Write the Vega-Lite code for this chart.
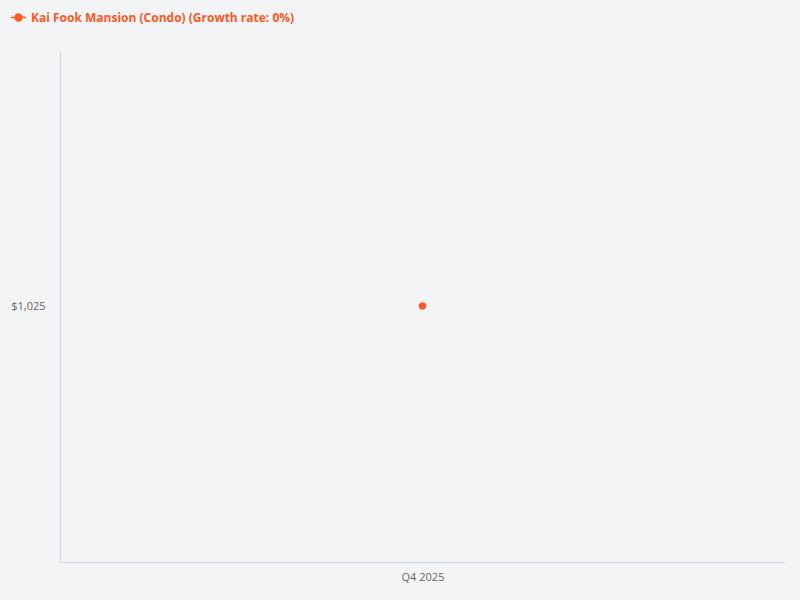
{
  "$schema": "https://vega.github.io/schema/vega-lite/v6.json",
  "autosize": {"type": "none"},
  "padding": {"left": 60, "top": 50, "right": 15, "bottom": 38},
  "width": 725,
  "height": 512,
  "background": "#f3f4f6",
  "data": {
    "values": [
      {"quarter": "Q4 2025", "price": 1025, "series": "Kai Fook Mansion (Condo) (Growth rate: 0%)"}
    ]
  },
  "encoding": {
    "x": {
      "field": "quarter",
      "type": "ordinal",
      "scale": {"type": "point", "padding": 0.5},
      "axis": {"title": null, "labelAngle": 0}
    },
    "y": {
      "field": "price",
      "type": "quantitative",
      "scale": {"domain": [1000, 1050], "zero": false, "nice": false},
      "axis": {"title": null, "values": [1025], "format": "$,.0f"}
    },
    "color": {
      "field": "series",
      "type": "nominal",
      "scale": {"range": ["#ff5722"]},
      "legend": {
        "title": null,
        "orient": "none",
        "legendX": -50,
        "legendY": -41,
        "symbolType": "M-1,0L1,0M-0.45,0A0.45,0.45 0 1,1 0.45,0A0.45,0.45 0 1,1 -0.45,0Z",
        "symbolSize": 230,
        "symbolStrokeWidth": 1.5,
        "symbolFillColor": "#ff5722",
        "symbolStrokeColor": "#ff5722",
        "symbolOpacity": 1,
        "labelFont": "Open Sans",
        "labelFontSize": 12,
        "labelFontWeight": "bold",
        "labelColor": "#ff5722",
        "labelOffset": 4,
        "labelLimit": 0,
        "padding": 0
      }
    }
  },
  "layer": [
    {"mark": {"type": "line", "strokeWidth": 2}},
    {"mark": {"type": "circle", "size": 55, "opacity": 1}}
  ],
  "config": {
    "view": {"stroke": null},
    "axis": {
      "grid": false,
      "ticks": false,
      "domainColor": "#cdd8e6",
      "domainWidth": 1,
      "labelFont": "Open Sans",
      "labelFontSize": 11,
      "labelColor": "#666666"
    },
    "axisY": {"labelPadding": 15},
    "axisX": {"labelPadding": 9}
  }
}
